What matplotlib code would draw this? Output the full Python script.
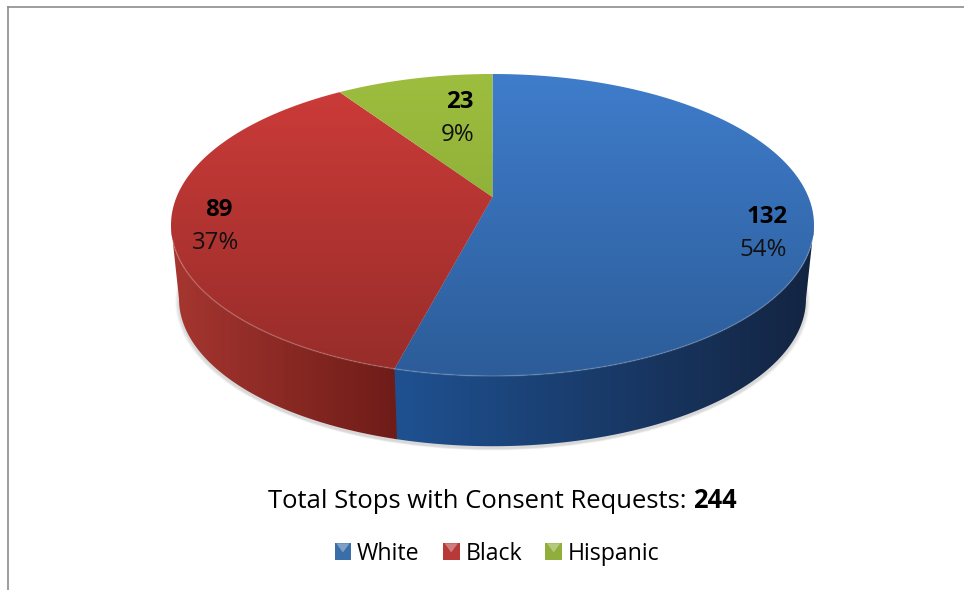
import numpy as np
import matplotlib
matplotlib.use('Agg')
import matplotlib.pyplot as plt
from matplotlib.colors import LinearSegmentedColormap
from matplotlib.patches import Rectangle, Polygon, Ellipse
from matplotlib.legend_handler import HandlerBase

plt.rcParams['font.family'] = ['Open Sans', 'DejaVu Sans']

labels = ['White', 'Black', 'Hispanic']
counts = [132, 89, 23]
percents = ['54%', '37%', '9%']
total = 244

top_colors = [('#3f7dcc', '#2c5c98'), ('#cf3c3a', '#952c29'), ('#9dbe3e', '#80a032')]
wall_colors = [('#1f5293', '#13233f'), ('#a93731', '#6c1b17'), ('#7f9c30', '#7f9c30')]
legend_colors = ['#3a6ea8', '#b83a38', '#8fae3c']

W, H = 964, 590
cx, cy = 492.5, 225.0   # centre of the top ellipse, pixels
rx, ry = 321.5, 151.0   # radii, pixels
depth = 0.49            # wall height in pie units
bottom_scale = 0.975    # bottom rim looks a bit smaller
a = 0.185               # perspective: apex sits above the ellipse centre

fig = plt.figure(figsize=(W / 100, H / 100), dpi=100)
ax = fig.add_axes([0, 0, 1, 1])
ax.set_xlim((0 - cx) / rx, (W - cx) / rx)
ax.set_ylim((cy - H) / ry, cy / ry)
ax.axis('off')
ax.set_autoscale_on(False)


def project(theta):
    # theta runs clockwise from 12 o'clock, circle seen in perspective
    x = np.sin(theta)
    y = np.cos(theta)
    d = 1 + a * y
    return x * np.sqrt(1 - a * a) / d, (y + a) / d


def gradient(c1, c2, poly, extent, vertical=True):
    cmap = LinearSegmentedColormap.from_list('g', [c1, c2])
    g = np.linspace(0, 1, 256)
    g = g.reshape(-1, 1) if vertical else g.reshape(1, -1)
    im = ax.imshow(g, cmap=cmap, extent=extent, aspect='auto', zorder=poly.get_zorder())
    im.set_clip_path(poly)


# soft shadow under the pie
for i in range(6):
    s = bottom_scale + 0.002 * (6 - i)
    ax.add_patch(Ellipse((0, -depth - 0.016), 2 * s, 2 * s, fc='#555555', ec='none',
                         alpha=0.04, zorder=1))

edges = np.deg2rad(np.concatenate([[0], np.cumsum(counts) / total * 360]))

# side walls, only the front part of the rim can be seen
rim_start = np.arccos(-a)
rim_end = 2 * np.pi - rim_start
for i in range(len(counts)):
    t0 = max(edges[i], rim_start)
    t1 = min(edges[i + 1] + 0.008, rim_end)
    if t1 <= t0:
        continue
    t = np.linspace(t0, t1, 200)
    x, y = project(t)
    xb = x * bottom_scale
    yb = y * bottom_scale - depth
    pts = np.column_stack([np.r_[x, xb[::-1]], np.r_[y, yb[::-1]]])
    p = Polygon(pts, closed=True, fc='none', ec='none', zorder=2)
    ax.add_patch(p)
    c1, c2 = wall_colors[i]
    if i == 0:
        gradient(c1, c2, p, [-0.33, 1.03, -1.6, 1], vertical=False)
    else:
        gradient(c1, c2, p, [-1.03, -0.27, -1.6, 1], vertical=False)

# top faces
for i in range(len(counts)):
    t = np.linspace(edges[i], edges[i + 1], 200)
    x, y = project(t)
    pts = np.column_stack([np.r_[0, x], np.r_[a, y]])
    p = Polygon(pts, closed=True, fc='none', ec='none', zorder=3)
    ax.add_patch(p)
    c1, c2 = top_colors[i]
    gradient(c1, c2, p, [-1.03, 1.03, -1.03, 1.03], vertical=True)
    front = y < -0.1
    ax.plot(x[front], y[front], color='white', alpha=0.15, lw=1.2, zorder=4)


def px(x, y):
    return x / W, 1 - y / H


# value labels
count_pos = [(767.5, 217), (219, 210), (460, 102)]
pct_pos = [(763.5, 250), (216, 243), (458, 135)]
for i in range(len(counts)):
    fig.text(*px(*count_pos[i]), str(counts[i]), fontsize=17.3, fontweight='bold', ha='center', va='center', color='black')
    fig.text(*px(*pct_pos[i]), percents[i], fontsize=17.3, ha='center', va='center', color='#111111')

# caption
fig.text(*px(686.5, 501), 'Total Stops with Consent Requests:', fontsize=18.45, ha='right', va='center', color='black')
fig.text(*px(693, 501), str(total), fontsize=18.45, fontweight='bold', ha='left', va='center', color='black')


class BevelHandler(HandlerBase):
    def __init__(self, color):
        super().__init__()
        self.color = color

    def create_artists(self, legend, orig, xd, yd, w, h, fontsize, trans):
        s = Rectangle((xd, yd), w, h, fc=self.color, ec='none', transform=trans)
        tri = Polygon([(xd + w * 0.1, yd + h), (xd + w * 0.9, yd + h), (xd + w * 0.5, yd + h * 0.45)],
                      fc='white', ec='none', alpha=0.35, transform=trans)
        return [s, tri]


handles = [Rectangle((0, 0), 1, 1) for _ in labels]
handler_map = {h: BevelHandler(c) for h, c in zip(handles, legend_colors)}
leg = fig.legend(handles, labels, handler_map=handler_map, loc='center', bbox_to_anchor=px(497, 554),
                 ncol=3, frameon=False, fontsize=16.7, handlelength=0.72, handleheight=0.72,
                 handletextpad=0.25, columnspacing=1.0, borderpad=0, labelcolor='black')

# chart frame, cut off at the right and bottom of the image
fig.add_artist(plt.Line2D([8 / W, 8 / W], [0, 1 - 7 / H], color='#8c8c8c', lw=1.2))
fig.add_artist(plt.Line2D([8 / W, 1], [1 - 7 / H, 1 - 7 / H], color='#8c8c8c', lw=1.2))

fig.savefig('out.png', dpi=100)
